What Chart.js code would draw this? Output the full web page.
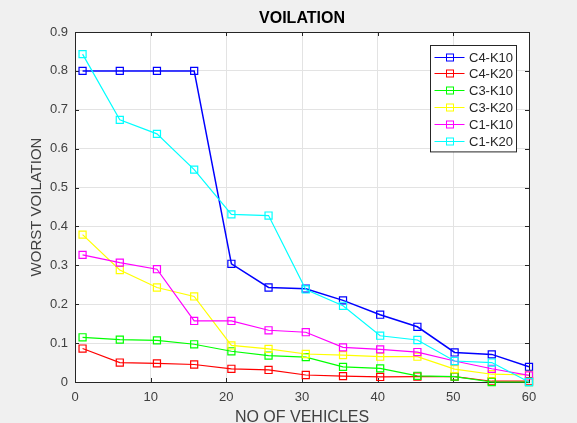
<!DOCTYPE html>
<html>
<head>
<meta charset="utf-8">
<script src="https://cdn.jsdelivr.net/npm/chart.js@4.4.0/dist/chart.umd.min.js"></script>
<style>
    html, body { margin: 0; padding: 0; background: #f0f0f0; }
    canvas { display: block; }
</style>
</head>
<body>
<canvas id="violation_chart" width="577" height="423"></canvas>
<script>
// x positions of the samples (no of vehicles)
let xVals = [1, 5.92, 10.83, 15.75, 20.67, 25.58, 30.5, 35.42, 40.33, 45.25, 50.17, 55.08, 60];

let seriesNames = ["C4-K10", "C4-K20", "C3-K10", "C3-K20", "C1-K10", "C1-K20"];
let seriesColors = ["#0000ff", "#ff0000", "#00ff00", "#ffff00", "#ff00ff", "#00ffff"];

let c4k10 = [0.8, 0.8, 0.8, 0.8, 0.304, 0.243, 0.24, 0.21, 0.173, 0.142, 0.076, 0.071, 0.039];
let c4k20 = [0.086, 0.05, 0.048, 0.045, 0.034, 0.031, 0.018, 0.015, 0.013, 0.014, 0.014, 0.002, 0.002];
let c3k10 = [0.115, 0.109, 0.107, 0.097, 0.079, 0.068, 0.064, 0.039, 0.035, 0.016, 0.014, 0.0, 0.0];
let c3k20 = [0.379, 0.288, 0.243, 0.22, 0.094, 0.085, 0.072, 0.069, 0.065, 0.065, 0.033, 0.02, 0.018];
let c1k10 = [0.327, 0.307, 0.29, 0.157, 0.157, 0.133, 0.128, 0.089, 0.084, 0.077, 0.054, 0.034, 0.017];
let c1k20 = [0.843, 0.674, 0.638, 0.546, 0.431, 0.428, 0.238, 0.196, 0.119, 0.108, 0.054, 0.05, 0.0];

let xTicks = [0, 10, 20, 30, 40, 50, 60];
let yTicks = [0, 0.1, 0.2, 0.3, 0.4, 0.5, 0.6, 0.7, 0.8, 0.9];

let allSeries = [c4k10, c4k20, c3k10, c3k20, c1k10, c1k20];
let fontFamily = "'Liberation Sans', Arial, Helvetica, sans-serif";
let textColor = "#262626";

// background, axis box and inward ticks like matlab
let matlabBox = {
    id: "matlabBox",
    beforeDraw: function (chart) {
        let ctx = chart.ctx;
        let a = chart.chartArea;
        ctx.save();
        ctx.fillStyle = "#f0f0f0";
        ctx.fillRect(0, 0, chart.width, chart.height);
        ctx.fillStyle = "#ffffff";
        ctx.fillRect(a.left, a.top, a.right - a.left, a.bottom - a.top);
        ctx.restore();
    },
    beforeDatasetsDraw: function (chart) {
        let ctx = chart.ctx;
        let a = chart.chartArea;
        let xs = chart.scales.x;
        let ys = chart.scales.y;
        let tl = 4;
        ctx.save();
        ctx.strokeStyle = textColor;
        ctx.lineWidth = 1;
        ctx.beginPath();
        for (let i = 0; i < xTicks.length; i++) {
            let px = Math.round(xs.getPixelForValue(xTicks[i])) + 0.5;
            ctx.moveTo(px, a.bottom);
            ctx.lineTo(px, a.bottom - tl);
            ctx.moveTo(px, a.top);
            ctx.lineTo(px, a.top + tl);
        }
        for (let i = 0; i < yTicks.length; i++) {
            let py = Math.round(ys.getPixelForValue(yTicks[i])) + 0.5;
            ctx.moveTo(a.left, py);
            ctx.lineTo(a.left + tl, py);
            ctx.moveTo(a.right, py);
            ctx.lineTo(a.right - tl, py);
        }
        ctx.stroke();
        ctx.strokeRect(Math.round(a.left) + 0.5, Math.round(a.top) + 0.5,
            Math.round(a.right - a.left), Math.round(a.bottom - a.top));
        ctx.restore();
    },
    afterDraw: function (chart) {
        // legend in the upper right corner of the axes
        let ctx = chart.ctx;
        let a = chart.chartArea;
        let boxW = 86, rowH = 16.9;
        let boxH = rowH * seriesNames.length + 5;
        let bx = Math.round(a.right - 13 - boxW) + 0.5;
        let by = Math.round(a.top + 13) + 0.5;
        ctx.save();
        ctx.fillStyle = "#ffffff";
        ctx.fillRect(bx, by, boxW, boxH);
        ctx.strokeStyle = textColor;
        ctx.lineWidth = 1;
        ctx.strokeRect(bx, by, boxW, boxH);
        ctx.font = "13px " + fontFamily;
        ctx.textBaseline = "middle";
        for (let i = 0; i < seriesNames.length; i++) {
            let cy = Math.round(by + 11 + i * rowH) + 0.5;
            ctx.strokeStyle = seriesColors[i];
            ctx.beginPath();
            ctx.moveTo(bx + 4, cy);
            ctx.lineTo(bx + 34, cy);
            ctx.stroke();
            ctx.strokeRect(bx + 16, cy - 3.5, 7, 7);
            ctx.fillStyle = textColor;
            ctx.fillText(seriesNames[i], bx + 38.5, cy + 0.5);
        }
        ctx.restore();
    }
};

let datasets = [];
for (let i = 0; i < allSeries.length; i++) {
    let pts = [];
    for (let j = 0; j < xVals.length; j++) {
        pts.push({ x: xVals[j], y: allSeries[i][j] });
    }
    datasets.push({
        label: seriesNames[i],
        data: pts,
        borderColor: seriesColors[i],
        borderWidth: i == 0 ? 1.5 : 1.2,
        pointStyle: "rect",
        pointRadius: 5,
        pointBorderWidth: 1.2,
        pointBorderColor: seriesColors[i],
        pointBackgroundColor: "rgba(0,0,0,0)",
        tension: 0,
        clip: false,
        order: allSeries.length - i
    });
}

let ctx = document.getElementById("violation_chart");
let violationChart = new Chart(ctx, {
    type: "line",
    data: { datasets: datasets },
    plugins: [matlabBox],
    options: {
        responsive: false,
        animation: false,
        layout: { padding: { left: 0, right: 48, top: 0, bottom: 0 } },
        plugins: {
            legend: { display: false },
            tooltip: { enabled: false },
            title: {
                display: true,
                text: "VOILATION",
                fullSize: false,
                color: "#000000",
                font: { family: fontFamily, size: 16, weight: "bold", lineHeight: 1.2 },
                padding: { top: 9.4, bottom: 3.4 }
            }
        },
        scales: {
            x: {
                type: "linear",
                min: 0,
                max: 60,
                afterBuildTicks: function (scale) {
                    scale.ticks = xTicks.map(function (v) { return { value: v }; });
                },
                afterFit: function (scale) { scale.height = 41; },
                grid: { color: "#e3e3e3", drawTicks: false },
                border: { display: false },
                ticks: {
                    color: "#404040",
                    padding: 8,
                    maxRotation: 0,
                    font: { family: fontFamily, size: 13 }
                },
                title: {
                    display: true,
                    text: "NO OF VEHICLES",
                    color: "#404040",
                    font: { family: fontFamily, size: 16, lineHeight: 1 },
                    padding: { top: 0, bottom: -3 }
                }
            },
            y: {
                type: "linear",
                min: 0,
                max: 0.9,
                afterBuildTicks: function (scale) {
                    scale.ticks = yTicks.map(function (v) { return { value: v }; });
                },
                afterFit: function (scale) { scale.width = 75; },
                grid: { color: "#e3e3e3", drawTicks: false },
                border: { display: false },
                ticks: {
                    color: "#404040",
                    padding: 7,
                    font: { family: fontFamily, size: 13 },
                    callback: function (v) { return String(Math.round(v * 10) / 10); }
                },
                title: {
                    display: true,
                    text: "WORST VOILATION",
                    color: "#404040",
                    font: { family: fontFamily, size: 15, lineHeight: 1 },
                    padding: { top: 29.5, bottom: 0 }
                }
            }
        }
    }
});
</script>
</body>
</html>
